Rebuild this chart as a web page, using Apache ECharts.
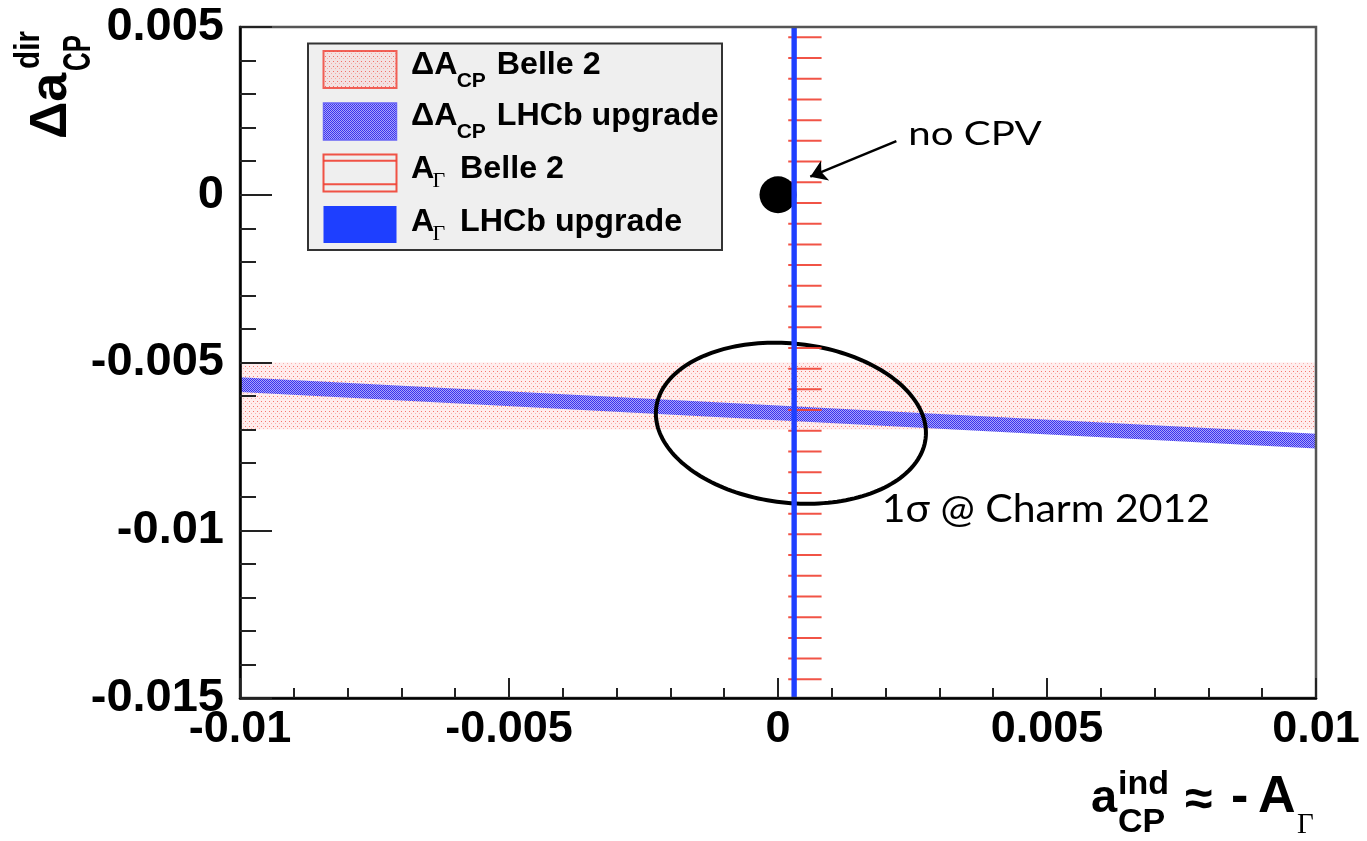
<!DOCTYPE html>
<html>
<head>
<meta charset="utf-8">
<script src="https://cdn.jsdelivr.net/npm/echarts@6/dist/echarts.min.js"></script>
<style>
  html, body { margin: 0; padding: 0; background: #fff; }
  #chart { width: 1367px; height: 841px; }
</style>
</head>
<body>
<div id="chart"></div>
<script>
// Axis ranges and tick labels
const xMin = -0.01, xMax = 0.01, xStep = 0.005;
const yMin = -0.015, yMax = 0.005, yStep = 0.005;
const xTickLabels = ['-0.01', '-0.005', '0', '0.005', '0.01'];
const yTickLabels = ['-0.015', '-0.01', '-0.005', '0', '0.005'];

// ΔA_CP Belle 2: allowed Δa_dir interval (horizontal band)
const belle2DeltaACP = [-0.007, -0.005];
// ΔA_CP LHCb upgrade: band centre at both ends of the a_ind range, and half-width
const lhcbDeltaACPx = [-0.01, 0.01];
const lhcbDeltaACPy = [-0.00566, -0.00734];
const lhcbDeltaACPHalf = 0.00022;
// A_Γ Belle 2: allowed a_ind interval (hatched vertical band)
const belle2AGamma = [0.00019, 0.00081];
// A_Γ LHCb upgrade: allowed a_ind interval (solid vertical band)
const lhcbAGamma = [0.00025, 0.00035];
// 1σ contour, Charm 2012 world average: centre, widths, correlation
const charmCenter = [0.00024, -0.00681];
const charmSigma = [0.00251, 0.0024];
const charmRho = -0.12;
// No-CPV point and the arrow pointing at it
const noCPVPoint = [0, 0];
const arrowFrom = [0.0022, 0.0016];
const arrowTo = [0.0006, 0.00054];

const SANS = '"Liberation Sans", Arial, Helvetica, sans-serif';
const SERIF = '"Liberation Serif", "Times New Roman", serif';
const HUMANIST = 'Lato, "Open Sans", sans-serif';
const BLUE = '#1e3fff';
const RED = 'rgba(240,64,50,0.9)';

function makePattern(w, h, draw) {
  const c = document.createElement('canvas');
  c.width = w; c.height = h;
  draw(c.getContext('2d'));
  return { image: c, repeat: 'repeat' };
}
// fine red dot raster
const pinkFill = makePattern(4, 10, g => {
  g.fillStyle = 'rgba(255,190,190,0.28)'; g.fillRect(0, 0, 4, 10);
  g.fillStyle = 'rgba(240,50,40,0.65)'; g.fillRect(1, 1, 1, 1); g.fillRect(1, 6, 1, 1);
  g.fillStyle = 'rgba(245,90,80,0.4)'; g.fillRect(3, 3, 1, 1); g.fillRect(3, 8, 1, 1);
});
// dense blue-violet checker raster
const violetFill = makePattern(2, 2, g => {
  g.fillStyle = '#a8a4fa'; g.fillRect(0, 0, 2, 2);
  g.fillStyle = '#3a32ee'; g.fillRect(0, 0, 1, 1); g.fillRect(1, 1, 1, 1);
});

function rectBand(fill) {
  return function (params, api) {
    const p0 = api.coord([api.value(0), api.value(3)]);
    const p1 = api.coord([api.value(1), api.value(2)]);
    return {
      type: 'rect',
      shape: { x: p0[0], y: p0[1], width: p1[0] - p0[0], height: p1[1] - p0[1] },
      style: { fill: fill }
    };
  };
}

const chart = echarts.init(document.getElementById('chart'), null, { renderer: 'canvas' });

const option = {
  animation: false,
  backgroundColor: '#fff',
  grid: {
    left: 240, top: 27, right: 51, bottom: 143,
    show: true, borderColor: '#555', borderWidth: 2.5, backgroundColor: 'transparent', z: 10
  },
  xAxis: {
    type: 'value', min: xMin, max: xMax, interval: xStep, z: 10,
    axisLine: { show: true, onZero: false, lineStyle: { color: '#000', width: 2.5 } },
    axisTick: { show: true, inside: true, length: 20, lineStyle: { color: '#222', width: 2 } },
    minorTick: { show: true, splitNumber: 5, length: 10, lineStyle: { color: '#222', width: 2 } },
    splitLine: { show: false },
    axisLabel: {
      margin: 9, color: '#000', fontSize: 45, fontWeight: 'bold', fontFamily: SANS,
      formatter: v => xTickLabels[Math.round((v - xMin) / xStep)]
    }
  },
  yAxis: {
    type: 'value', min: yMin, max: yMax, interval: yStep, z: 10,
    axisLine: { show: true, onZero: false, lineStyle: { color: '#000', width: 2.5 } },
    axisTick: { show: true, inside: true, length: 32, lineStyle: { color: '#222', width: 2 } },
    minorTick: { show: true, splitNumber: 5, length: 16, lineStyle: { color: '#222', width: 2 } },
    splitLine: { show: false },
    axisLabel: {
      margin: 16, color: '#000', fontSize: 47, fontWeight: 'bold', fontFamily: SANS,
      formatter: v => yTickLabels[Math.round((v - yMin) / yStep)]
    }
  },
  series: [
    {
      name: 'ΔA_CP Belle 2', type: 'custom', z: 1, silent: true,
      data: [[xMin, xMax, belle2DeltaACP[0], belle2DeltaACP[1]]],
      renderItem: rectBand(pinkFill)
    },
    {
      name: 'ΔA_CP LHCb upgrade', type: 'custom', z: 2, silent: true,
      data: [[lhcbDeltaACPx[0], lhcbDeltaACPx[1], lhcbDeltaACPy[0], lhcbDeltaACPy[1], lhcbDeltaACPHalf]],
      renderItem: function (params, api) {
        const x0 = api.value(0), x1 = api.value(1), c0 = api.value(2), c1 = api.value(3), h = api.value(4);
        const pts = [
          api.coord([x0, c0 + h]), api.coord([x1, c1 + h]),
          api.coord([x1, c1 - h]), api.coord([x0, c0 - h])
        ];
        return { type: 'polygon', shape: { points: pts }, style: { fill: violetFill } };
      }
    },
    {
      name: '1σ @ Charm 2012', type: 'custom', z: 3, silent: true,
      data: [[charmCenter[0], charmCenter[1], charmSigma[0], charmSigma[1], charmRho]],
      renderItem: function (params, api) {
        const cx = api.value(0), cy = api.value(1), sx = api.value(2), sy = api.value(3), r = api.value(4);
        const k = Math.sqrt(1 - r * r);
        const pts = [];
        for (let i = 0; i < 180; i++) {
          const t = i / 180 * 2 * Math.PI;
          pts.push(api.coord([cx + sx * Math.cos(t), cy + sy * (r * Math.cos(t) + k * Math.sin(t))]));
        }
        return { type: 'polygon', shape: { points: pts }, style: { fill: 'none', stroke: '#000', lineWidth: 4 } };
      }
    },
    {
      name: 'A_Γ Belle 2', type: 'custom', z: 4, silent: true,
      data: [[belle2AGamma[0], belle2AGamma[1], yMin, yMax]],
      renderItem: function (params, api) {
        const a = api.coord([api.value(0), api.value(3)]);
        const b = api.coord([api.value(1), api.value(2)]);
        const cs = params.coordSys;
        const children = [];
        for (let y = cs.y + 10.3; y <= cs.y + cs.height; y += 20.71) {
          children.push({
            type: 'line',
            shape: { x1: a[0], y1: y, x2: b[0], y2: y },
            style: { stroke: RED, lineWidth: 2 }
          });
        }
        return { type: 'group', children: children };
      }
    },
    {
      name: 'no CPV', type: 'scatter', z: 5, silent: true,
      symbol: 'circle', symbolSize: 37,
      itemStyle: { color: '#000', opacity: 1 },
      data: [noCPVPoint],
      markLine: {
        silent: true, symbol: ['none', 'arrow'], symbolSize: 16,
        lineStyle: { color: '#000', width: 2.5, type: 'solid', opacity: 1 },
        label: { show: false },
        data: [[{ coord: arrowFrom }, { coord: arrowTo }]]
      }
    },
    {
      name: 'A_Γ LHCb upgrade', type: 'custom', z: 6, silent: true,
      data: [[lhcbAGamma[0], lhcbAGamma[1], yMin, yMax]],
      renderItem: rectBand(BLUE)
    }
  ]
};
chart.setOption(option);

// Text helper for graphic elements
function txt(x, y, text, size, extra) {
  extra = extra || {};
  return {
    type: 'text', x: x, y: y, z: 30, rotation: extra.rotation || 0,
    scaleX: extra.scaleX || 1,
    style: {
      text: text, x: 0, y: 0,
      fontSize: size, fontWeight: extra.weight || 'bold', fontFamily: extra.family || SANS,
      fill: '#000', align: extra.align || 'left', textAlign: extra.align || 'left',
      verticalAlign: 'middle', textVerticalAlign: 'middle'
    }
  };
}

const LS = { scaleX: 1.04 };
const legendIcon = (y) => ({ x: 323.5, y: y, width: 73, height: 37 });
const legend = [
  { type: 'rect', z: 25, shape: { x: 308, y: 43.5, width: 414, height: 206.5 }, style: { fill: '#efefef', stroke: '#333', lineWidth: 2 } },
  { type: 'rect', z: 26, shape: legendIcon(51), style: { fill: pinkFill, stroke: 'rgba(240,70,60,0.85)', lineWidth: 2 } },
  { type: 'rect', z: 26, shape: legendIcon(103), style: { fill: violetFill, stroke: '#6a66f5', lineWidth: 1.5 } },
  { type: 'rect', z: 26, shape: legendIcon(154.5), style: { fill: 'none', stroke: RED, lineWidth: 2 } },
  { type: 'line', z: 26, shape: { x1: 323.5, y1: 160.7, x2: 396.5, y2: 160.7 }, style: { stroke: RED, lineWidth: 2 } },
  { type: 'line', z: 26, shape: { x1: 323.5, y1: 184.3, x2: 396.5, y2: 184.3 }, style: { stroke: RED, lineWidth: 2 } },
  { type: 'rect', z: 26, shape: legendIcon(206), style: { fill: BLUE } },
  txt(411, 65.5, 'ΔA', 31, LS), txt(456.7, 81, 'CP', 21), txt(496.7, 65.5, 'Belle 2', 31, LS),
  txt(411, 116.8, 'ΔA', 31, LS), txt(456.7, 132.3, 'CP', 21), txt(496.7, 116.8, 'LHCb upgrade', 31, LS),
  txt(411, 169.5, 'A', 31, LS), txt(432.5, 181, 'Γ', 22, { weight: 'normal', family: SERIF }), txt(460, 169.5, 'Belle 2', 31, LS),
  txt(411, 222.8, 'A', 31, LS), txt(432.5, 234, 'Γ', 22, { weight: 'normal', family: SERIF }), txt(460, 222.8, 'LHCb upgrade', 31, LS)
];

// Axis titles
const R = Math.PI / 2;
const titles = [
  txt(1091, 799, 'a', 47), txt(1118, 785, 'ind', 34), txt(1118, 823, 'CP', 34),
  txt(1185, 801, '≈', 50), txt(1231, 798, '-', 52), txt(1258, 798, 'A', 52),
  txt(1297, 825, 'Γ', 29, { weight: 'normal', family: SERIF }),
  txt(52, 139, 'Δa', 52, { rotation: R }),
  txt(29.5, 69, 'dir', 35, { rotation: R, scaleX: 0.85 }),
  txt(80, 71, 'CP', 38, { rotation: R, scaleX: 0.68 })
];

// Annotations placed in data coordinates
const pNo = chart.convertToPixel({ gridIndex: 0 }, [0.00242, 0.00181]);
const pSig = chart.convertToPixel({ gridIndex: 0 }, [0.00193, -0.00939]);
const notes = [
  txt(pNo[0], pNo[1], 'no CPV', 33, { weight: 'normal', family: HUMANIST, scaleX: 1.22 }),
  txt(pSig[0], pSig[1], '1σ @ Charm 2012', 39, { weight: 'normal', family: HUMANIST, scaleX: 1.05 })
];

chart.setOption({ graphic: { elements: legend.concat(titles, notes) } });
</script>
</body>
</html>
